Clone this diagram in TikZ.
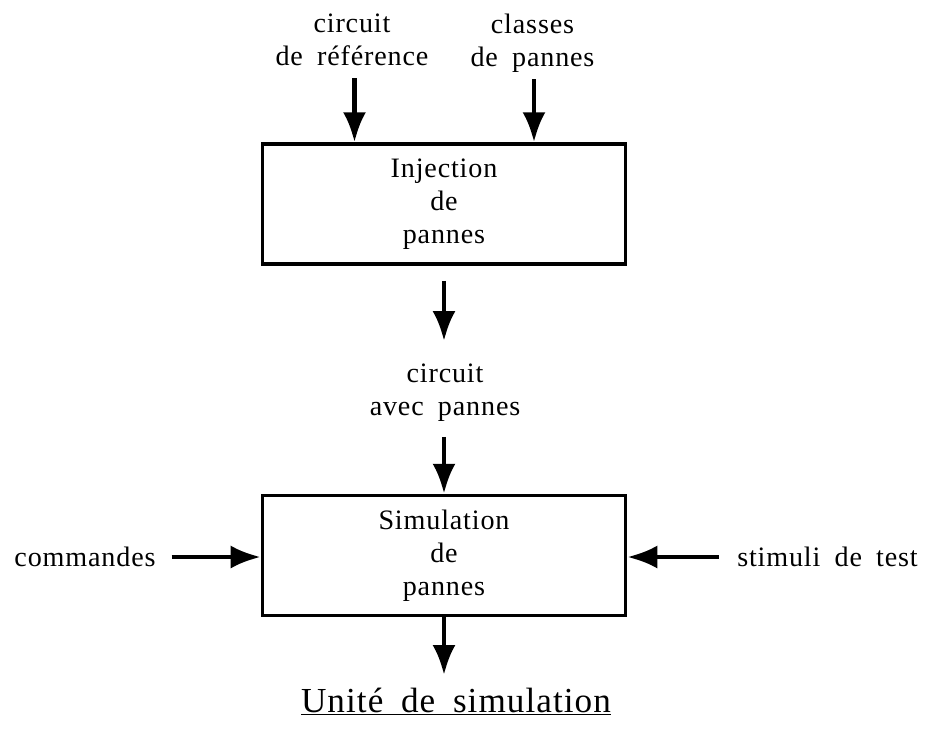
\documentclass[tikz,border=0pt]{standalone}
\usepackage{fontspec}
\setmainfont{Liberation Serif}[LetterSpace=3,WordSpace=1.8]
\usepackage{tikz}
\usetikzlibrary{arrows.meta,positioning}

\begin{document}
\begin{tikzpicture}[every node/.style={font=\fontsize{16}{18.7}\selectfont, align=center},
  bloc/.style={draw, line width=2pt, minimum width=7.26cm, minimum height=2.4cm},
  flux/.style={-{Latex[length=6mm,width=4.6mm]}, line width=2.5pt}]
\useasboundingbox (0,0) rectangle (18.56,-14.88);
% blocs
\node[bloc] (inj) at (8.88,-4.08) {Injection\\de\\pannes};
\node[bloc] (sim) at (8.88,-11.11) {Simulation\\de\\pannes};
% entrees et sorties
\node (ref) at (7.04,-0.8) {circuit\\de référence};
\node (cls) at (10.65,-0.86) {classes\\de pannes};
\node (cap) at (8.9,-7.86) {circuit\\avec pannes};
\node (cmd) at (1.7,-11.14) {commandes};
\node (stim) at (16.55,-11.14) {stimuli de test};
\node[anchor=base, font=\fontsize{20}{24}\selectfont] (titre) at (9.12,-14.24) {\underline{Unité de simulation}};
\coordinate (fin) at (8.88,-13.5);
\draw[flux] ([xshift=0.05cm,yshift=-0.12cm]ref.south) -- ([xshift=0.05cm]ref.south |- inj.north);
\draw[flux] ([xshift=0.03cm,yshift=-0.02cm]cls.south) -- ([xshift=0.03cm]cls.south |- inj.north);
\draw[flux] ([yshift=-0.3cm]inj.south) -- ([yshift=0.34cm]cap.north -| inj.south);
\draw[flux] ([yshift=-0.18cm]cap.south -| sim.north) -- (sim.north);
\draw[flux] ([xshift=0.2cm]cmd.east) -- (sim.west |- cmd.east);
\draw[flux] ([xshift=-0.25cm]stim.west) -- (sim.east |- stim.west);
\draw[flux] (sim.south) -- (fin);
\end{tikzpicture}
\end{document}
